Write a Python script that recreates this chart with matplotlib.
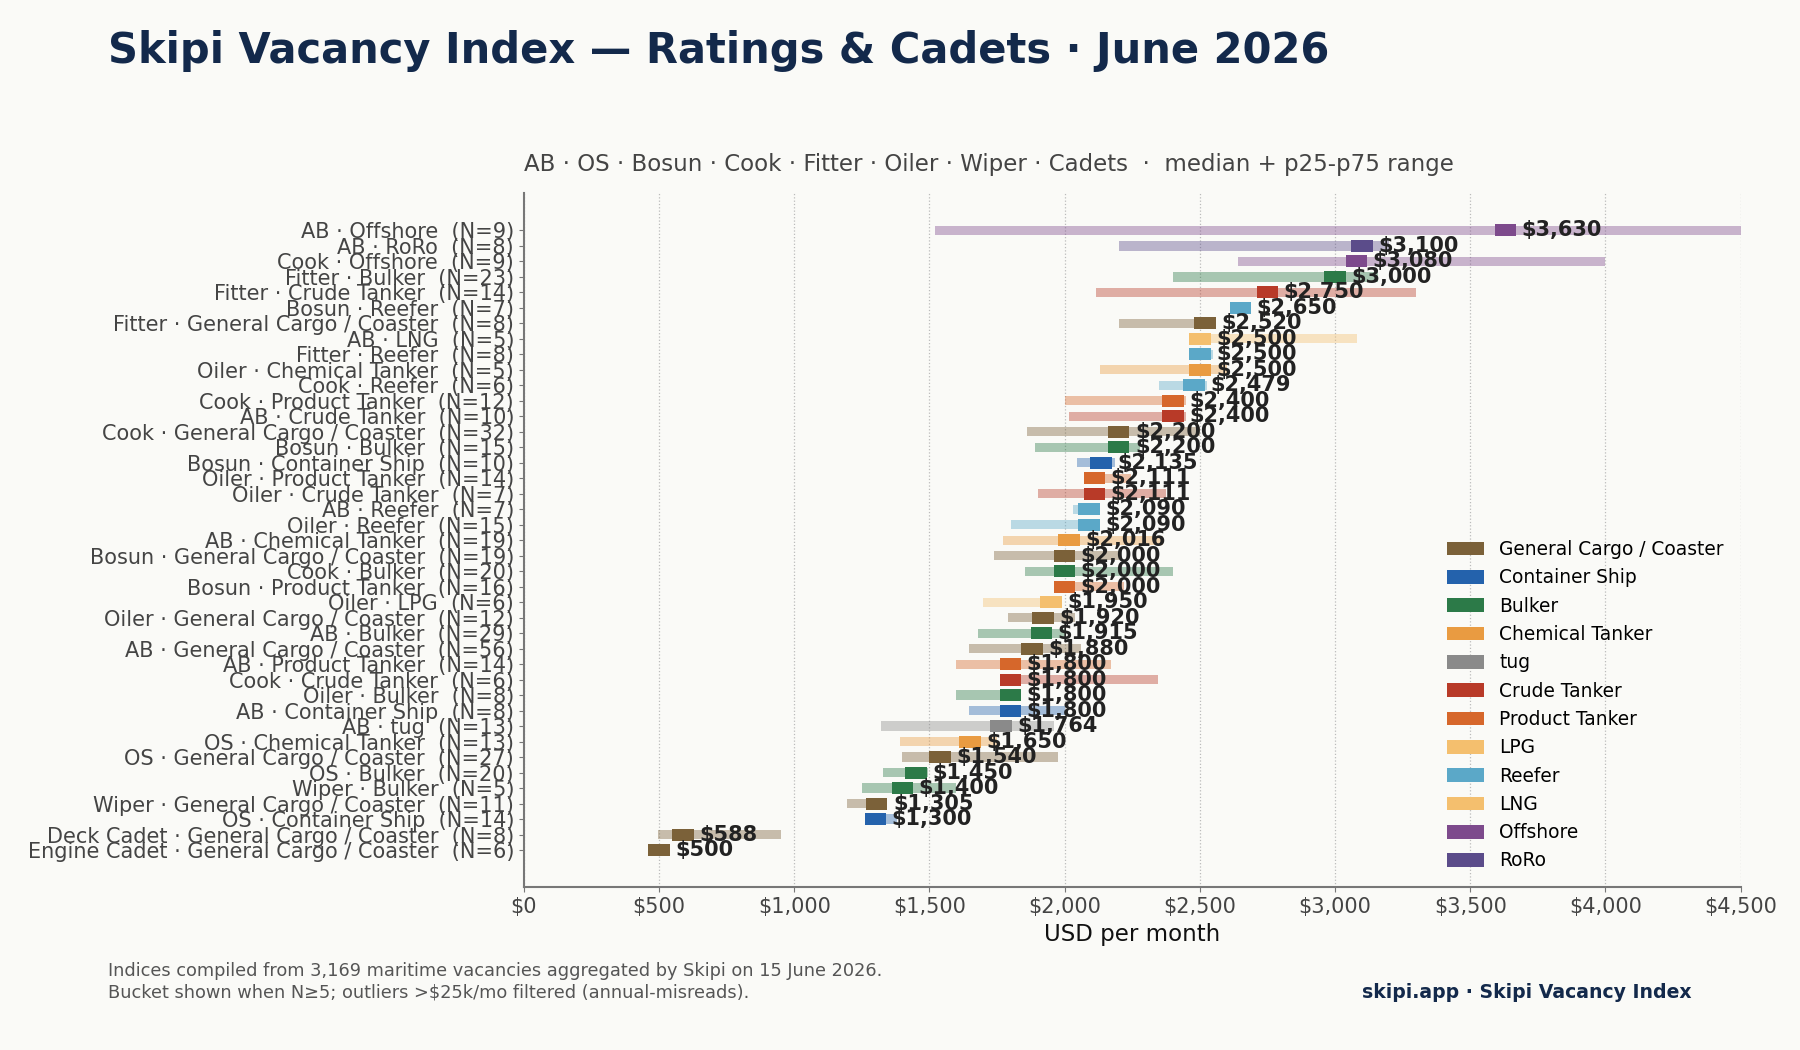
import matplotlib.pyplot as plt
from matplotlib.patches import Patch

# Data (top row first)
roles = ["AB", "AB", "Cook", "Fitter", "Fitter", "Bosun", "Fitter", "AB", "Fitter", "Oiler",
         "Cook", "Cook", "AB", "Cook", "Bosun", "Bosun", "Oiler", "Oiler", "AB", "Oiler",
         "AB", "Bosun", "Cook", "Bosun", "Oiler", "Oiler", "AB", "AB", "AB", "Cook",
         "Oiler", "AB", "AB", "OS", "OS", "OS", "Wiper", "Wiper", "OS", "Deck Cadet",
         "Engine Cadet"]
vessels = ["Offshore", "RoRo", "Offshore", "Bulker", "Crude Tanker", "Reefer",
           "General Cargo / Coaster", "LNG", "Reefer", "Chemical Tanker",
           "Reefer", "Product Tanker", "Crude Tanker", "General Cargo / Coaster", "Bulker",
           "Container Ship", "Product Tanker", "Crude Tanker", "Reefer", "Reefer",
           "Chemical Tanker", "General Cargo / Coaster", "Bulker", "Product Tanker", "LPG",
           "General Cargo / Coaster", "Bulker", "General Cargo / Coaster", "Product Tanker",
           "Crude Tanker", "Bulker", "Container Ship", "tug", "Chemical Tanker",
           "General Cargo / Coaster", "Bulker", "Bulker", "General Cargo / Coaster",
           "Container Ship", "General Cargo / Coaster", "General Cargo / Coaster"]
counts = [9, 8, 9, 23, 14, 7, 8, 5, 8, 5, 6, 12, 10, 32, 15, 10, 14, 7, 7, 15,
          19, 19, 20, 16, 6, 12, 29, 56, 14, 6, 8, 8, 13, 13, 27, 20, 5, 11, 14, 8, 6]
medians = [3630, 3100, 3080, 3000, 2750, 2650, 2520, 2500, 2500, 2500,
           2479, 2400, 2400, 2200, 2200, 2135, 2111, 2111, 2090, 2090,
           2016, 2000, 2000, 2000, 1950, 1920, 1915, 1880, 1800, 1800,
           1800, 1800, 1764, 1650, 1540, 1450, 1400, 1305, 1300, 588, 500]
p25 = [1520, 2200, 2640, 2400, 2115, 2620, 2200, 2500, 2500, 2130,
       2350, 2000, 2015, 1860, 1890, 2045, 2100, 1900, 2030, 1800,
       1773, 1740, 1855, 2000, 1700, 1790, 1680, 1646, 1598, 1800,
       1598, 1646, 1322, 1392, 1400, 1330, 1250, 1197, 1300, 498, 500]
p75 = [4500, 3200, 4000, 3160, 3300, 2680, 2520, 3080, 2550, 2600,
       2525, 2450, 2450, 2500, 2280, 2185, 2245, 2375, 2100, 2090,
       2365, 2200, 2400, 2220, 1950, 2040, 2000, 2060, 2172, 2345,
       1800, 2000, 1960, 1750, 1977, 1496, 1600, 1305, 1380, 950, 500]

legend_order = ["General Cargo / Coaster", "Container Ship", "Bulker", "Chemical Tanker",
                "tug", "Crude Tanker", "Product Tanker", "LPG", "Reefer", "LNG",
                "Offshore", "RoRo"]
palette = ["#7b6139", "#2462ac", "#2c7a48", "#e99b41", "#8a8a8a", "#b83a28",
           "#d6672b", "#f4bf6e", "#5ba8c8", "#f4bf6e", "#7d4a8c", "#5b4c8a"]
colors = dict(zip(legend_order, palette))

bg = "#fafaf7"
fig = plt.figure(figsize=(18, 10.5), dpi=100, facecolor=bg)
ax = fig.add_axes([0.291, 0.155, 0.676, 0.661])
ax.set_facecolor(bg)

ypos = list(range(len(roles)))
for y, v, m, lo, hi in zip(ypos, vessels, medians, p25, p75):
    c = colors[v]
    ax.barh(y, hi - lo, left=lo, height=0.6, color=c, alpha=0.4, linewidth=0, zorder=2)
    ax.barh(y, 80, left=m - 40, height=0.78, color=c, linewidth=0, zorder=3)
    ax.text(m + 60, y, f"${m:,}", va="center", ha="left", fontsize=15,
            fontweight="bold", color="#222222", zorder=4)

labels = [f"{r} · {v}  (N={n})" for r, v, n in zip(roles, vessels, counts)]
ax.set_yticks(ypos)
ax.set_yticklabels(labels, fontsize=15, color="#444444")
ax.set_ylim(len(roles) - 1 + 2.4, -2.4)

ax.set_xlim(0, 4500)
xt = list(range(0, 4501, 500))
ax.set_xticks(xt)
ax.set_xticklabels([f"${x:,}" for x in xt], fontsize=15, color="#444444")
ax.set_xlabel("USD per month", fontsize=16.5, color="#111111", labelpad=4)
ax.grid(axis="x", linestyle=":", color="#bbbbbb", linewidth=0.9, zorder=0)
ax.set_axisbelow(True)

for s in ["top", "right"]:
    ax.spines[s].set_visible(False)
for s in ["left", "bottom"]:
    ax.spines[s].set_color("#777777")
    ax.spines[s].set_linewidth(1.5)
ax.tick_params(colors="#777777", labelcolor="#444444")

ax.set_title("AB · OS · Bosun · Cook · Fitter · Oiler · Wiper · Cadets  ·  median + p25-p75 range",
             fontsize=16.5, color="#444444", pad=16, loc="left")

handles = [Patch(facecolor=colors[v], label=v) for v in legend_order]
leg = ax.legend(handles=handles, loc="lower right", frameon=False, fontsize=13.4,
                labelspacing=0.5, handlelength=2.0, handleheight=0.75,
                bbox_to_anchor=(1.0, 0.0))

fig.text(0.06, 0.951, "Skipi Vacancy Index — Ratings & Cadets · June 2026",
         fontsize=30, fontweight="bold", color="#13294b", va="center", ha="left")
fig.text(0.06, 0.065,
         "Indices compiled from 3,169 maritime vacancies aggregated by Skipi on 15 June 2026.\n"
         "Bucket shown when N≥5; outliers >$25k/mo filtered (annual-misreads).",
         fontsize=12.75, color="#555555", va="center", ha="left", linespacing=1.3)
fig.text(0.94, 0.055, "skipi.app · Skipi Vacancy Index", fontsize=13.6, fontweight="bold",
         color="#13294b", va="center", ha="right")

fig.savefig("out.png", dpi=100, facecolor=bg)
